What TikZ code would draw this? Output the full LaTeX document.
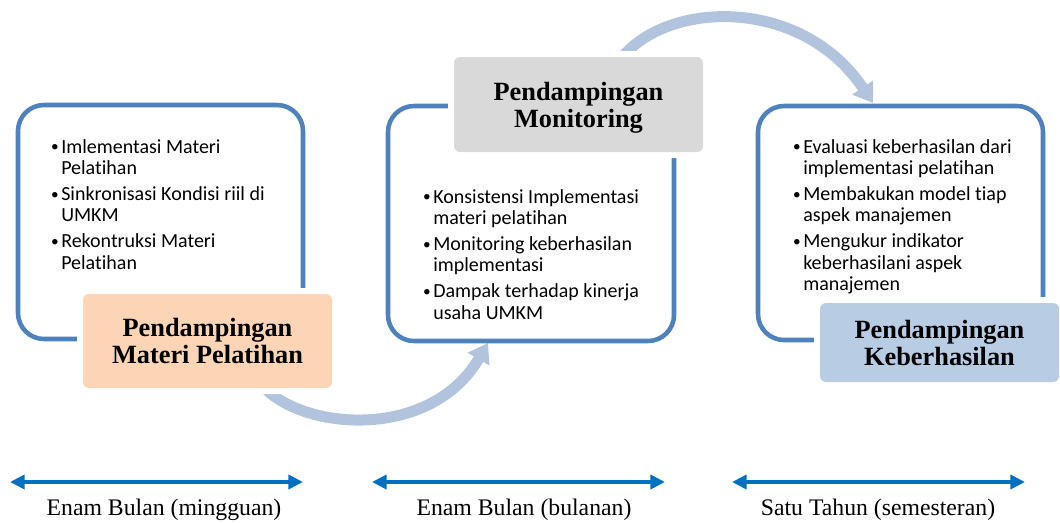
\documentclass[tikz,border=0pt]{standalone}
\usepackage{fontspec}
\setmainfont{Liberation Serif}
\newfontfamily\bodyfont[Ligatures=NoCommon]{Carlito}
\usetikzlibrary{arrows.meta,fit}
\definecolor{outlineblue}{RGB}{79,129,189}
\definecolor{orangefill}{RGB}{251,213,181}
\definecolor{grayfill}{RGB}{217,217,217}
\definecolor{bluefill}{RGB}{184,204,228}
\definecolor{arcblue}{RGB}{178,195,222}
\definecolor{spanblue}{RGB}{0,112,192}
\newcommand{\bul}{\makebox[8.25pt][l]{\hspace{0.6pt}\raisebox{0.9pt}{\fontsize{11.5}{11.5}\selectfont\textbullet}}}
\begin{document}
\begin{tikzpicture}[x=0.75pt,y=-0.75pt,
  outline/.style={draw=outlineblue, line width=3.4pt, rounded corners=19.5pt, inner sep=0pt},
  tagbox/.style={rounded corners=4.5pt, inner sep=0pt, preaction={draw=white,line width=9pt}},
  title/.style={font=\fontsize{19.75}{20.25}\selectfont\bfseries, align=center, inner sep=0pt},
  list/.style={font=\bodyfont\fontsize{15}{16.1}\selectfont, inner sep=0pt, anchor=base west},
  arc/.style={draw=arcblue, line width=8.25pt, -{Triangle[length=14pt,width=18pt]}},
  span/.style={draw=spanblue, line width=3pt, {Triangle[length=11pt,width=10.5pt]}-{Triangle[length=11pt,width=10.5pt]}},
  period/.style={font=\fontsize{17.8}{20}\selectfont, anchor=base, inner sep=0pt}]
\useasboundingbox (0,0) rectangle (1060,522);
% curved connectors (behind boxes)
\coordinate (s1) at (262,385);
\coordinate (e1) at (488,343);
\coordinate (s2) at (617,64);
\coordinate (e2) at (873,103);
\draw[arc] (s1) .. controls (300,430) and (430,442) .. (e1);
\draw[arc] (s2) .. controls (660,0) and (800,-6) .. (e2);
% outline boxes
\node[outline, fit={(18,105) (303,339)}] (b1) {};
\node[outline, fit={(388,106) (674,341)}] (b2) {};
\node[outline, fit={(758,106) (1043,340)}] (b3) {};
% tag boxes
\node[tagbox, fill=orangefill, fit={(83,294) (332,388)}] (t1) {};
\node[tagbox, fill=grayfill, fit={(454,57) (703,152)}] (t2) {};
\node[tagbox, fill=bluefill, fit={(820,303) (1059,382)}] (t3) {};
\node[title] (t1txt) at (t1.center) {Pendampingan\\Materi Pelatihan};
\node[title, yshift=-2.5pt] (t2txt) at (t2.center) {Pendampingan\\Monitoring};
\node[title] (t3txt) at (t3.center) {Pendampingan\\Keberhasilan};
% lists
\node[list] (l1) at (50,153) {\begin{tabular}[t]{@{}l@{}l@{}}
\bul & Imlementasi Materi\\ & Pelatihan\\[3.4pt]
\bul & Sinkronisasi Kondisi riil di\\ & UMKM\\[3.4pt]
\bul & Rekontruksi Materi\\ & Pelatihan
\end{tabular}};
\node[list] (l2) at (422,203) {\begin{tabular}[t]{@{}l@{}l@{}}
\bul & Konsistensi Implementasi\\ & materi pelatihan\\[3.4pt]
\bul & Monitoring keberhasilan\\ & implementasi\\[3.4pt]
\bul & Dampak terhadap kinerja\\ & usaha UMKM
\end{tabular}};
\node[list] (l3) at (792,153) {\begin{tabular}[t]{@{}l@{}l@{}}
\bul & Evaluasi keberhasilan dari\\ & implementasi pelatihan\\[3.4pt]
\bul & Membakukan model tiap\\ & aspek manajemen\\[3.4pt]
\bul & Mengukur indikator\\ & keberhasilani aspek\\ & manajemen
\end{tabular}};
% time spans
\coordinate (a1l) at (10,482);
\coordinate (a1r) at (303,482);
\coordinate (a2l) at (372,482);
\coordinate (a2r) at (665,482);
\coordinate (a3l) at (732,482);
\coordinate (a3r) at (1025,482);
\draw[span] (a1l) -- (a1r);
\draw[span] (a2l) -- (a2r);
\draw[span] (a3l) -- (a3r);
\node[period] (p1) at (164,515) {Enam Bulan (mingguan)};
\node[period] (p2) at (524,515) {Enam Bulan (bulanan)};
\node[period] (p3) at (878,515) {Satu Tahun (semesteran)};
\end{tikzpicture}
\end{document}
